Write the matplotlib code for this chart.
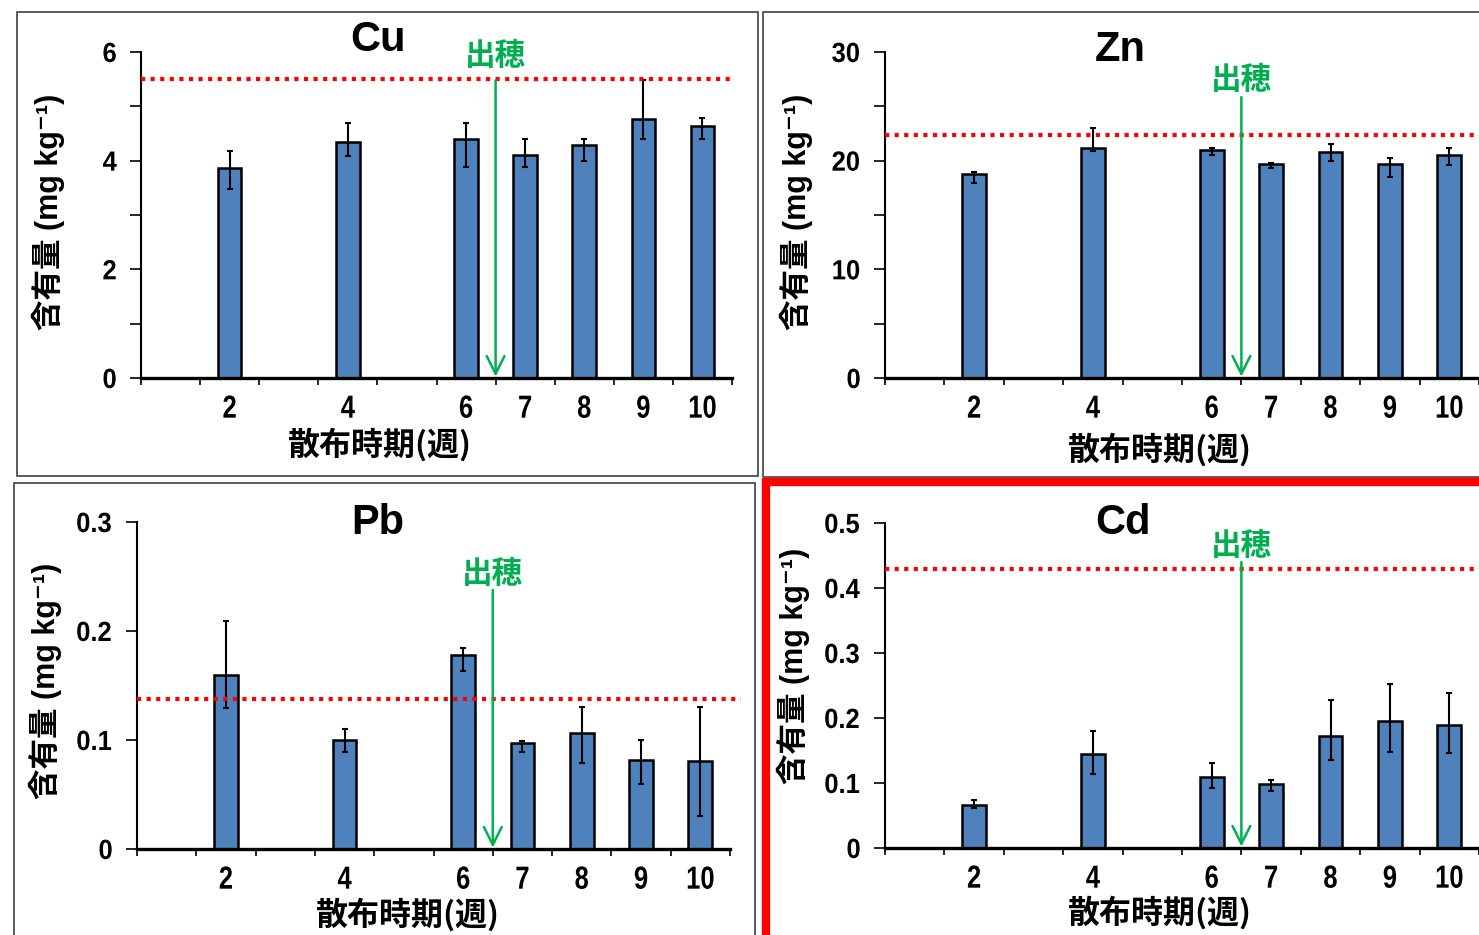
import matplotlib
matplotlib.use("Agg")
import matplotlib.pyplot as plt
from matplotlib import font_manager
from matplotlib.patches import Rectangle
from matplotlib.ticker import FixedLocator, NullFormatter
from matplotlib.patheffects import AbstractPathEffect
from matplotlib.transforms import Affine2D

# ---------------- data ----------------
weeks = [2, 4, 6, 7, 8, 9, 10]
tick_labels = ["2", "4", "6", "7", "8", "9", "10"]
heading_week = 6.5

cu = [3.86, 4.35, 4.39, 4.10, 4.28, 4.77, 4.64]
cu_lo = [0.38, 0.27, 0.50, 0.21, 0.28, 0.38, 0.25]
cu_hi = [0.32, 0.34, 0.30, 0.29, 0.11, 0.71, 0.15]
cu_limit = 5.5

zn = [18.8, 21.2, 21.0, 19.7, 20.8, 19.7, 20.5]
zn_lo = [0.9, 0.3, 0.5, 0.4, 0.8, 1.2, 0.9]
zn_hi = [0.15, 1.85, 0.2, 0.05, 0.75, 0.5, 0.7]
zn_limit = 22.4

pb = [0.160, 0.100, 0.178, 0.097, 0.106, 0.082, 0.081]
pb_lo = [0.031, 0.011, 0.015, 0.008, 0.027, 0.022, 0.051]
pb_hi = [0.049, 0.010, 0.006, 0.002, 0.024, 0.018, 0.049]
pb_limit = 0.138

cd = [0.066, 0.144, 0.109, 0.099, 0.173, 0.195, 0.189]
cd_lo = [0.005, 0.030, 0.017, 0.011, 0.038, 0.048, 0.043]
cd_hi = [0.008, 0.036, 0.022, 0.005, 0.054, 0.058, 0.049]
cd_limit = 0.43

ylabel_text = "含有量 (mg kg⁻¹)"
xlabel_text = "散布時期(週)"
heading_text = "出穂"

# ---------------- fonts ----------------
names = {f.name for f in font_manager.fontManager.ttflist}
num_font = "Liberation Sans" if "Liberation Sans" in names else "DejaVu Sans"
cjk = ["Noto Sans CJK JP", "DejaVu Sans"]
mixed = [num_font, "Noto Sans CJK JP", "DejaVu Sans"]


class Condense(AbstractPathEffect):
    """Squeeze glyphs horizontally around their own centre."""

    def __init__(self, sx):
        super().__init__()
        self.sx = sx

    def draw_path(self, renderer, gc, tpath, affine, rgbFace=None):
        ext = tpath.get_extents()
        cx = (ext.x0 + ext.x1) / 2.0
        t = Affine2D().translate(-cx, 0).scale(self.sx, 1.0).translate(cx, 0) + affine
        renderer.draw_path(gc, tpath, t, rgbFace)


W, H = 1479, 935
fig = plt.figure(figsize=(W / 100, H / 100), dpi=100)
fig.patch.set_facecolor("white")

BAR = "#4F81BD"
GREEN = "#00B050"


def px_axes(l, r, t, b):
    return fig.add_axes([l / W, (H - b) / H, (r - l) / W, (b - t) / H])


panels = [
    dict(name="Cu", vals=cu, lo=cu_lo, hi=cu_hi, lim=cu_limit, ymax=6, minor=1, major=2,
         fmt="{:.0f}", box=(141, 732, 52, 378), title=(0.401, 1.037),
         ylab=(-0.156, 0.51), xlab=(0.404, -0.206), arrow=(5.48, 5.92), line_xmax=1.0),
    dict(name="Zn", vals=zn, lo=zn_lo, hi=zn_hi, lim=zn_limit, ymax=30, minor=5, major=10,
         fmt="{:.0f}", box=(885, 1479, 52, 378), title=(0.396, 1.006),
         ylab=(-0.150, 0.51), xlab=(0.463, -0.221), arrow=(25.85, 27.4), line_xmax=1.0),
    dict(name="Pb", vals=pb, lo=pb_lo, hi=pb_hi, lim=pb_limit, ymax=0.3, minor=0.1, major=0.1,
         fmt="{:.1f}", box=(137, 730, 522, 849), title=(0.406, 0.997),
         ylab=(-0.155, 0.514), xlab=(0.457, -0.202), arrow=(0.2376, 0.252), line_xmax=1.018),
    dict(name="Cd", vals=cd, lo=cd_lo, hi=cd_hi, lim=cd_limit, ymax=0.5, minor=0.1, major=0.1,
         fmt="{:.1f}", box=(885, 1479, 523, 848), title=(0.40, 1.0),
         ylab=(-0.154, 0.56), xlab=(0.463, -0.20), arrow=(0.44, 0.4646), line_xmax=1.0),
]

for p in panels:
    ax = px_axes(*p["box"])
    ax.set_facecolor("none")
    ax.bar(weeks, p["vals"], width=0.40, color=BAR, edgecolor="black", linewidth=1.8, zorder=2)
    ax.errorbar(weeks, p["vals"], yerr=[p["lo"], p["hi"]], fmt="none", ecolor="black",
                elinewidth=1.5, capsize=2.5, capthick=1.5, zorder=3)
    ax.axhline(p["lim"], xmin=0, xmax=p["line_xmax"], color="#FF0000", lw=3,
               linestyle=(0, (1, 1.3)), zorder=4, clip_on=False)
    ax.set_xlim(0.5, 10.5)
    ax.set_ylim(0, p["ymax"])

    # spines
    for s in ("top", "right"):
        ax.spines[s].set_visible(False)
    ax.spines["bottom"].set_linewidth(2.4)
    ax.spines["left"].set_linewidth(1.5)
    ax.spines["bottom"].set_zorder(5)

    # x ticks: labels at weeks, boundary marks at half positions
    ax.set_xticks(weeks)
    ax.set_xticklabels(tick_labels, fontsize=23, fontweight="bold", family=num_font)
    for lbl in ax.get_xticklabels():
        lbl.set_path_effects([Condense(0.80)])
    ax.tick_params(axis="x", which="major", length=0, pad=12)
    ax.xaxis.set_minor_locator(FixedLocator([x + 0.5 for x in range(0, 11)]))
    ax.tick_params(axis="x", which="minor", length=5, width=1.2, direction="out")

    # y ticks
    n_major = int(round(p["ymax"] / p["major"]))
    majors = [round(i * p["major"], 6) for i in range(n_major + 1)]
    n_minor = int(round(p["ymax"] / p["minor"]))
    minors = [round(i * p["minor"], 6) for i in range(n_minor + 1)]
    ax.yaxis.set_minor_locator(FixedLocator(minors))
    ax.yaxis.set_minor_formatter(NullFormatter())
    ax.set_yticks(majors)
    ax.set_yticklabels(["0" if v == 0 else p["fmt"].format(v) for v in majors],
                       fontsize=20, fontweight="bold", family=num_font)
    for lbl in ax.get_yticklabels():
        lbl.set_path_effects([Condense(0.92)])
    ax.tick_params(axis="y", which="both", length=8, width=1.2, direction="out", pad=9)

    # title
    ax.text(p["title"][0], p["title"][1], p["name"], transform=ax.transAxes,
            ha="center", va="center", fontsize=30, fontweight="bold", family=num_font)
    # axis labels
    ax.text(p["ylab"][0], p["ylab"][1], ylabel_text, transform=ax.transAxes, rotation=90,
            ha="center", va="center", fontsize=22, fontweight="bold", family=mixed)
    ax.text(p["xlab"][0], p["xlab"][1], xlabel_text, transform=ax.transAxes,
            ha="center", va="center", fontsize=23, fontweight="bold", family=cjk)

    # heading arrow
    a0, t0 = p["arrow"]
    ax.annotate("", xy=(heading_week, 0.0), xytext=(heading_week, a0),
                arrowprops=dict(arrowstyle="->", color=GREEN, lw=1.8, mutation_scale=32,
                                shrinkA=0, shrinkB=1), zorder=6, annotation_clip=False)
    ax.text(heading_week, t0, heading_text, ha="center", va="center", color=GREEN,
            fontsize=22, fontweight="bold", family=cjk, zorder=6)

# panel frames (figure pixel coordinates)
frames = [
    (17, 12, 758, 476, "#404040", 1.2),
    (763, 12, 1490, 477, "#404040", 1.2),
    (14, 483, 755, 945, "#404040", 1.2),
]
for x0, y0, x1, y1, c, lw in frames:
    fig.add_artist(Rectangle((x0 / W, 1 - y1 / H), (x1 - x0) / W, (y1 - y0) / H,
                             transform=fig.transFigure, fill=False, edgecolor=c, lw=lw,
                             clip_on=False))
# red highlight frame around Cd
fig.add_artist(Rectangle((766 / W, 1 - 960 / H), 760 / W, (960 - 482) / H,
                         transform=fig.transFigure, fill=False, edgecolor="#FF0000", lw=6,
                         clip_on=False))

fig.savefig("out.png", dpi=100, facecolor="white")
